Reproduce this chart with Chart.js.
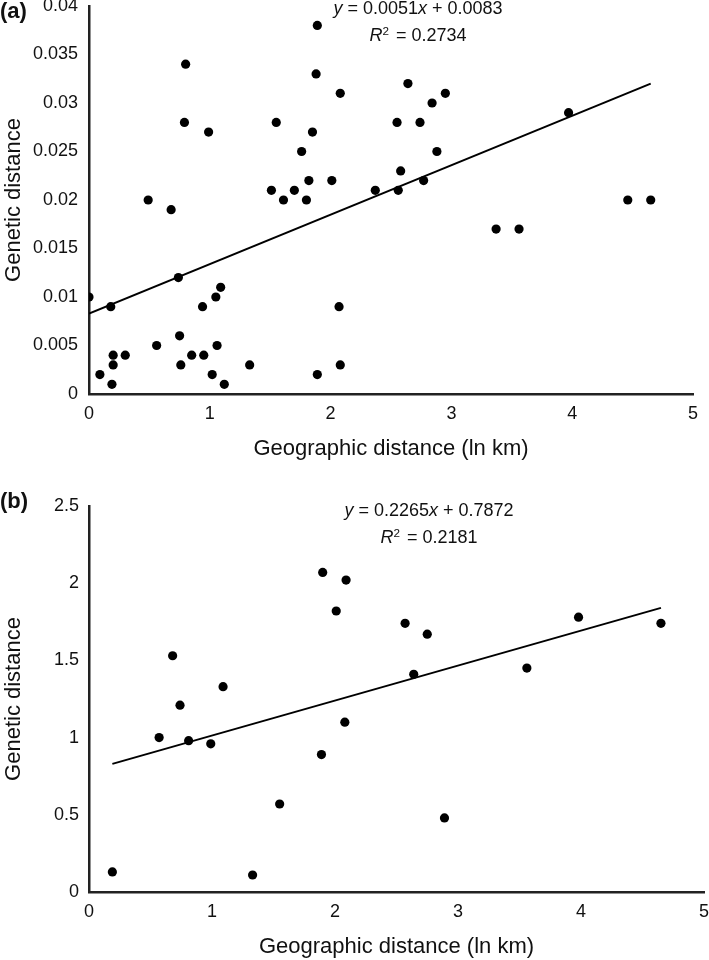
<!DOCTYPE html>
<html>
<head>
<meta charset="utf-8">
<title>Genetic vs geographic distance</title>
<script src="https://cdn.jsdelivr.net/npm/chart.js@4.4.0/dist/chart.umd.min.js"></script>
<style>
  body { margin: 0; background: #fff; font-family: "Liberation Sans", Arial, sans-serif; color: #111; }
  .panel { position: relative; width: 709px; height: 480px; }
  .panel canvas { position: absolute; left: 0; top: 0; }
  .tag { position: absolute; left: 0; font-weight: bold; font-size: 22px; line-height: 22px; }
  .eq { position: absolute; width: 200px; text-align: center; font-size: 18px; line-height: 27px; white-space: nowrap; }
  .eq .sup { position: relative; top: -0.5em; font-size: 0.65em; margin-right: 2px; }
</style>
</head>
<body>
<div class="panel">
  <canvas id="chart-a" width="709" height="480"></canvas>
  <div class="tag" style="top:0px">(a)</div>
  <div class="eq" style="left:318px; top:-5px">
    <div><i>y</i> = 0.0051<i>x</i> + 0.0083</div>
    <div><i>R</i><span class="sup">2</span> = 0.2734</div>
  </div>
</div>
<div class="panel">
  <canvas id="chart-b" width="709" height="480"></canvas>
  <div class="tag" style="top:10px">(b)</div>
  <div class="eq" style="left:329px; top:17px">
    <div><i>y</i> = 0.2265<i>x</i> + 0.7872</div>
    <div><i>R</i><span class="sup">2</span> = 0.2181</div>
  </div>
</div>
<script>
/* ---------- data: panel (a) ---------- */
const geoA = [0.49, 0.68, 0.80, 0.79, 0.99, 1.89, 1.88, 2.08, 1.55, 1.85, 1.76, 1.82, 2.01, 1.51,
  1.70, 1.61, 1.80, 2.64, 2.95, 2.84, 2.55, 2.74, 3.97, 2.88, 2.58, 2.77, 2.37, 2.56, 4.46, 4.65,
  3.37, 3.56, 0.00, 0.18, 0.74, 1.09, 1.05, 0.94, 2.07, 0.75, 0.56, 1.06, 0.20, 0.30, 0.85, 0.95,
  0.20, 0.76, 1.33, 2.08, 0.09, 1.02, 1.89, 0.19, 1.12];
const genA = [0.020, 0.019, 0.034, 0.028, 0.027, 0.038, 0.033, 0.031, 0.028, 0.027, 0.025, 0.022, 0.022, 0.021,
  0.021, 0.020, 0.020, 0.032, 0.031, 0.030, 0.028, 0.028, 0.029, 0.025, 0.023, 0.022, 0.021, 0.021, 0.020, 0.020,
  0.017, 0.017, 0.010, 0.009, 0.012, 0.011, 0.010, 0.009, 0.009, 0.006, 0.005, 0.005, 0.004, 0.004, 0.004, 0.004,
  0.003, 0.003, 0.003, 0.003, 0.002, 0.002, 0.002, 0.001, 0.001];
const trendGeoA = [0, 4.65];
const trendGenA = [0.0083, 0.0320];
const yTicksA = [0, 0.005, 0.01, 0.015, 0.02, 0.025, 0.03, 0.035, 0.04];
const yLabelsA = ['0', '0.005', '0.01', '0.015', '0.02', '0.025', '0.03', '0.035', '0.04'];

/* ---------- data: panel (b) ---------- */
const geoB = [0.19, 0.57, 0.68, 0.74, 0.81, 0.99, 1.09, 1.33, 1.55, 1.89, 1.90,
  2.01, 2.09, 2.08, 2.57, 2.64, 2.75, 2.89, 3.56, 3.98, 4.65];
const genB = [0.13, 1.00, 1.53, 1.21, 0.98, 0.96, 1.33, 0.11, 0.57, 0.89, 2.07,
  1.82, 2.02, 1.10, 1.74, 1.41, 1.67, 0.48, 1.45, 1.78, 1.74];
const trendGeoB = [0.19, 4.65];
const trendGenB = [0.830, 1.840];
const yTicksB = [0, 0.5, 1, 1.5, 2, 2.5];
const yLabelsB = ['0', '0.5', '1', '1.5', '2', '2.5'];

/* ---------- shared x axis ---------- */
const xTicks = [0, 1, 2, 3, 4, 5];
const xLabels = ['0', '1', '2', '3', '4', '5'];

const FONT = '"Liberation Sans", Arial, sans-serif';
const INK = '#111';

function pairs(xs, ys) {
  return xs.map((x, i) => ({ x, y: ys[i] }));
}

function makeChart(id, cfg) {
  const ctx = document.getElementById(id).getContext('2d');
  return new Chart(ctx, {
    type: 'scatter',
    data: {
      datasets: [
        {
          data: pairs(cfg.xs, cfg.ys),
          backgroundColor: '#000',
          borderColor: '#000',
          pointRadius: 4.6,
          pointBorderWidth: 0
        },
        {
          data: pairs(cfg.tx, cfg.ty),
          showLine: true,
          borderColor: '#000',
          borderWidth: 2,
          pointRadius: 0
        }
      ]
    },
    options: {
      responsive: false,
      animation: false,
      devicePixelRatio: 1,
      layout: { padding: cfg.padding },
      plugins: { legend: { display: false }, tooltip: { enabled: false } },
      scales: {
        x: {
          type: 'linear',
          min: 0, max: 5,
          grid: { display: false, drawTicks: false },
          border: { display: true, color: '#222', width: 2.5 },
          afterBuildTicks: s => { s.ticks = xTicks.map(v => ({ value: v })); },
          afterFit: s => { s.height = cfg.xHeight; s.paddingLeft = 0; s.paddingRight = 0; },
          ticks: {
            autoSkip: false, maxRotation: 0, padding: 9, color: INK,
            font: { family: FONT, size: 18 },
            callback: (v, i) => xLabels[i]
          },
          title: {
            display: true, text: 'Geographic distance (ln km)', color: INK,
            font: { family: FONT, size: 22 },
            padding: { top: 0, bottom: cfg.xTitlePad }
          }
        },
        y: {
          type: 'linear',
          min: cfg.yTicks[0], max: cfg.yTicks[cfg.yTicks.length - 1],
          grid: { display: false, drawTicks: false },
          border: { display: true, color: '#222', width: 2.5 },
          afterBuildTicks: s => { s.ticks = cfg.yTicks.map(v => ({ value: v })); },
          afterFit: s => { s.width = 89; s.paddingTop = 0; s.paddingBottom = 0; },
          ticks: {
            autoSkip: false, padding: cfg.yTickPad, color: INK,
            font: { family: FONT, size: 18 },
            callback: (v, i) => cfg.yLabels[i]
          },
          title: {
            display: true, text: 'Genetic distance', color: INK,
            font: { family: FONT, size: 22 },
            padding: { top: 1, bottom: 0 }
          }
        }
      }
    }
  });
}

makeChart('chart-a', {
  xs: geoA, ys: genA, tx: trendGeoA, ty: trendGenA,
  yTicks: yTicksA, yLabels: yLabelsA,
  padding: { top: 6, right: 16, bottom: 0, left: 0 },
  xHeight: 86, xTitlePad: 18, yTickPad: 11
});

makeChart('chart-b', {
  xs: geoB, ys: genB, tx: trendGeoB, ty: trendGenB,
  yTicks: yTicksB, yLabels: yLabelsB,
  padding: { top: 26, right: 5, bottom: 0, left: 0 },
  xHeight: 68, xTitlePad: 0, yTickPad: 10
});
</script>
</body>
</html>
